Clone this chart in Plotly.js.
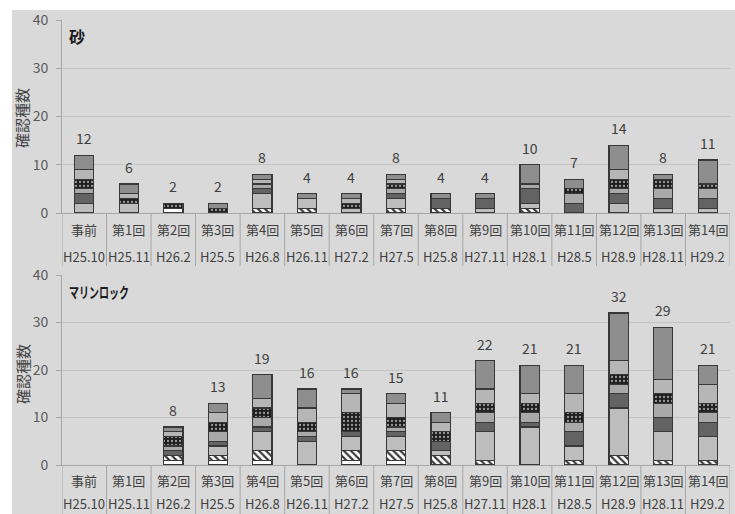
<!DOCTYPE html>
<html>
<head>
<meta charset="utf-8">
<script src="https://cdn.plot.ly/plotly-3.0.1.min.js"></script>
<style>
  html, body { margin: 0; padding: 0; background: #ffffff; }
  #chart { width: 735px; height: 514px; }
</style>
</head>
<body>
<div id="chart"></div>
<script>
// Survey rounds and dates (table under each panel)
const rounds = ['事前', '第1回', '第2回', '第3回', '第4回', '第5回', '第6回', '第7回',
                '第8回', '第9回', '第10回', '第11回', '第12回', '第13回', '第14回'];
const dates = ['H25.10', 'H25.11', 'H26.2', 'H25.5', 'H26.8', 'H26.11', 'H27.2', 'H27.5',
               'H25.8', 'H27.11', 'H28.1', 'H28.5', 'H28.9', 'H28.11', 'H29.2'];

// 砂 : species counts per group, bottom to top of each stack
const sandWhite   = [0, 0, 1, 0, 0, 0, 0, 0, 0, 0, 0, 0, 0, 0, 0];
const sandHatch   = [0, 0, 0, 0, 1, 1, 0, 1, 1, 0, 1, 0, 0, 0, 0];
const sandLight   = [2, 2, 0, 0, 3, 2, 1, 2, 0, 1, 1, 0, 2, 1, 1];
const sandDark    = [2, 0, 0, 0, 1, 0, 0, 1, 2, 2, 3, 2, 2, 2, 2];
const sandLight2  = [1, 0, 0, 0, 1, 0, 0, 1, 0, 0, 1, 2, 1, 2, 2];
const sandDotted  = [2, 1, 1, 1, 0, 0, 1, 1, 0, 0, 0, 1, 2, 2, 1];
const sandLight3  = [2, 1, 0, 0, 1, 0, 1, 1, 0, 0, 0, 0, 2, 0, 0];
const sandMedium  = [3, 2, 0, 1, 1, 1, 1, 1, 1, 1, 4, 2, 5, 1, 5];

// マリンロック : species counts per group, bottom to top of each stack
const rockWhite   = [0, 0, 1, 1, 1, 0, 1, 1, 0, 0, 0, 0, 0, 0, 0];
const rockHatch   = [0, 0, 1, 1, 2, 0, 2, 2, 2, 1, 0, 1, 2, 1, 1];
const rockLight   = [0, 0, 0, 2, 4, 5, 3, 3, 1, 6, 8, 3, 10, 6, 5];
const rockDark    = [0, 0, 1, 1, 1, 1, 1, 1, 2, 2, 1, 3, 3, 3, 3];
const rockLight2  = [0, 0, 1, 2, 2, 1, 0, 1, 0, 2, 2, 2, 2, 3, 2];
const rockDotted  = [0, 0, 2, 2, 2, 2, 4, 2, 2, 2, 2, 2, 2, 2, 2];
const rockLight3  = [0, 0, 1, 2, 2, 3, 4, 3, 2, 3, 2, 4, 3, 3, 4];
const rockMedium  = [0, 0, 1, 2, 5, 4, 1, 2, 2, 6, 6, 6, 10, 11, 4];

const sandSeries = [sandWhite, sandHatch, sandLight, sandDark, sandLight2, sandDotted, sandLight3, sandMedium];
const rockSeries = [rockWhite, rockHatch, rockLight, rockDark, rockLight2, rockDotted, rockLight3, rockMedium];

// Fill style of each stacked group
const styles = [
  { color: '#ffffff' },
  { color: '#ffffff', pattern: { shape: '\\', bgcolor: '#ffffff', fgcolor: '#3a3a3a', size: 5, solidity: 0.45 } },
  { color: '#bdbdbd' },
  { color: '#636363' },
  { color: '#a9a9a9' },
  { color: '#1e1e1e', pattern: { shape: '.', bgcolor: '#1e1e1e', fgcolor: '#9a9a9a', size: 4, solidity: 0.25 } },
  { color: '#b6b6b6' },
  { color: '#8e8e8e' }
];

const W = 735, H = 514;
const px = v => v / W;
const py = v => 1 - v / H;
const xs = rounds.map((_, i) => i);

const traces = [];
function addStack(series, xa, ya) {
  series.forEach((vals, k) => {
    const st = styles[k];
    const marker = { color: st.color, line: { color: '#383838', width: 1.2 } };
    if (st.pattern) marker.pattern = st.pattern;
    traces.push({
      type: 'bar', x: xs, y: vals.map(v => (v > 0 ? v : null)), xaxis: xa, yaxis: ya,
      width: 0.43, marker: marker, showlegend: false, hoverinfo: 'skip'
    });
  });
}
addStack(sandSeries, 'x', 'y');
addStack(rockSeries, 'x2', 'y2');

const sum = series => xs.map(i => series.reduce((a, s) => a + s[i], 0));
const sandTotal = sum(sandSeries);
const rockTotal = sum(rockSeries);

const font = 'Noto Sans CJK JP, Noto Sans, sans-serif';
const annotations = [];
const shapes = [];

// Grey frame behind both panels
shapes.push({ type: 'rect', xref: 'paper', yref: 'paper', x0: px(12), x1: 1, y0: 0, y1: py(10),
              fillcolor: '#d9d9d9', line: { width: 0 }, layer: 'below' });

function addPanel(totals, xr, yr, zeroPx, row1Px, row2Px, bottomPx, title, titleSize, titlePx, yTitlePx) {
  totals.forEach((t, i) => {
    if (t > 0) {
      annotations.push({ xref: xr, yref: yr, x: i, y: t, text: String(t), showarrow: false,
        yanchor: 'bottom', yshift: 5, font: { family: font, size: 14, color: '#404040' } });
    }
    annotations.push({ xref: xr, yref: 'paper', x: i, y: py(row1Px), text: rounds[i], showarrow: false,
      yanchor: 'middle', font: { family: font, size: 13, color: '#404040' } });
    annotations.push({ xref: xr, yref: 'paper', x: i, y: py(row2Px), text: dates[i], showarrow: false,
      yanchor: 'middle', font: { family: font, size: 13, color: '#404040' } });
  });
  for (let k = 0; k <= rounds.length; k++) {
    shapes.push({ type: 'line', xref: xr, yref: 'paper', x0: k - 0.5, x1: k - 0.5,
      y0: py(zeroPx), y1: py(bottomPx), line: { color: '#a6a6a6', width: 1 } });
  }
  annotations.push({ xref: 'paper', yref: 'paper', x: px(67), y: py(titlePx), text: '<b>' + title + '</b>',
    showarrow: false, xanchor: 'left', yanchor: 'middle',
    font: { family: font, size: titleSize, color: '#1a1a1a' } });
  annotations.push({ xref: 'paper', yref: 'paper', x: px(22), y: py(yTitlePx), text: '確認種数',
    textangle: -90, showarrow: false, xanchor: 'center', yanchor: 'middle',
    font: { family: font, size: 15, color: '#404040' } });
}
addPanel(sandTotal, 'x', 'y', 213, 230, 256, 266, '砂', 16, 36, 118);
addPanel(rockTotal, 'x2', 'y2', 465, 480, 503, 514, 'マリンロック', 15, 291, 374);

const yAxisBase = {
  range: [0, 40], dtick: 10, showgrid: true, gridcolor: '#c4c4c4', gridwidth: 1,
  zeroline: false, showline: true, linecolor: '#a6a6a6', linewidth: 1,
  ticks: 'outside', ticklen: 5, tickcolor: '#a6a6a6', ticklabelstandoff: 5,
  tickfont: { family: font, size: 14, color: '#595959' }, fixedrange: true
};
const xAxisBase = {
  range: [-0.5, 14.5], domain: [px(62), px(730)], showgrid: false, zeroline: false,
  showline: true, linecolor: '#a6a6a6', linewidth: 1, ticks: '', showticklabels: false, fixedrange: true
};

const layout = {
  width: W, height: H,
  margin: { l: 0, r: 0, t: 0, b: 0 },
  paper_bgcolor: '#ffffff', plot_bgcolor: '#ffffff',
  barmode: 'stack',
  xaxis: Object.assign({}, xAxisBase, { anchor: 'y' }),
  xaxis2: Object.assign({}, xAxisBase, { anchor: 'y2' }),
  yaxis: Object.assign({}, yAxisBase, { domain: [py(213), py(20)], anchor: 'x' }),
  yaxis2: Object.assign({}, yAxisBase, { domain: [py(465), py(275)], anchor: 'x2' }),
  annotations: annotations,
  shapes: shapes
};

Plotly.newPlot('chart', traces, layout, { staticPlot: true, displayModeBar: false }).then(gd => {
  // The katakana panel title is set in a narrow bold face: squeeze it to 60px,
  // keeping its left edge where it was placed
  gd.querySelectorAll('.annotation-text').forEach(t => {
    if (t.textContent === 'マリンロック') {
      const before = t.getBBox();
      t.setAttribute('textLength', '60');
      t.setAttribute('lengthAdjust', 'spacingAndGlyphs');
      const after = t.getBBox();
      const x = parseFloat(t.getAttribute('x') || '0');
      t.setAttribute('x', String(x + (before.x - after.x)));
    }
  });
});
</script>
</body>
</html>
